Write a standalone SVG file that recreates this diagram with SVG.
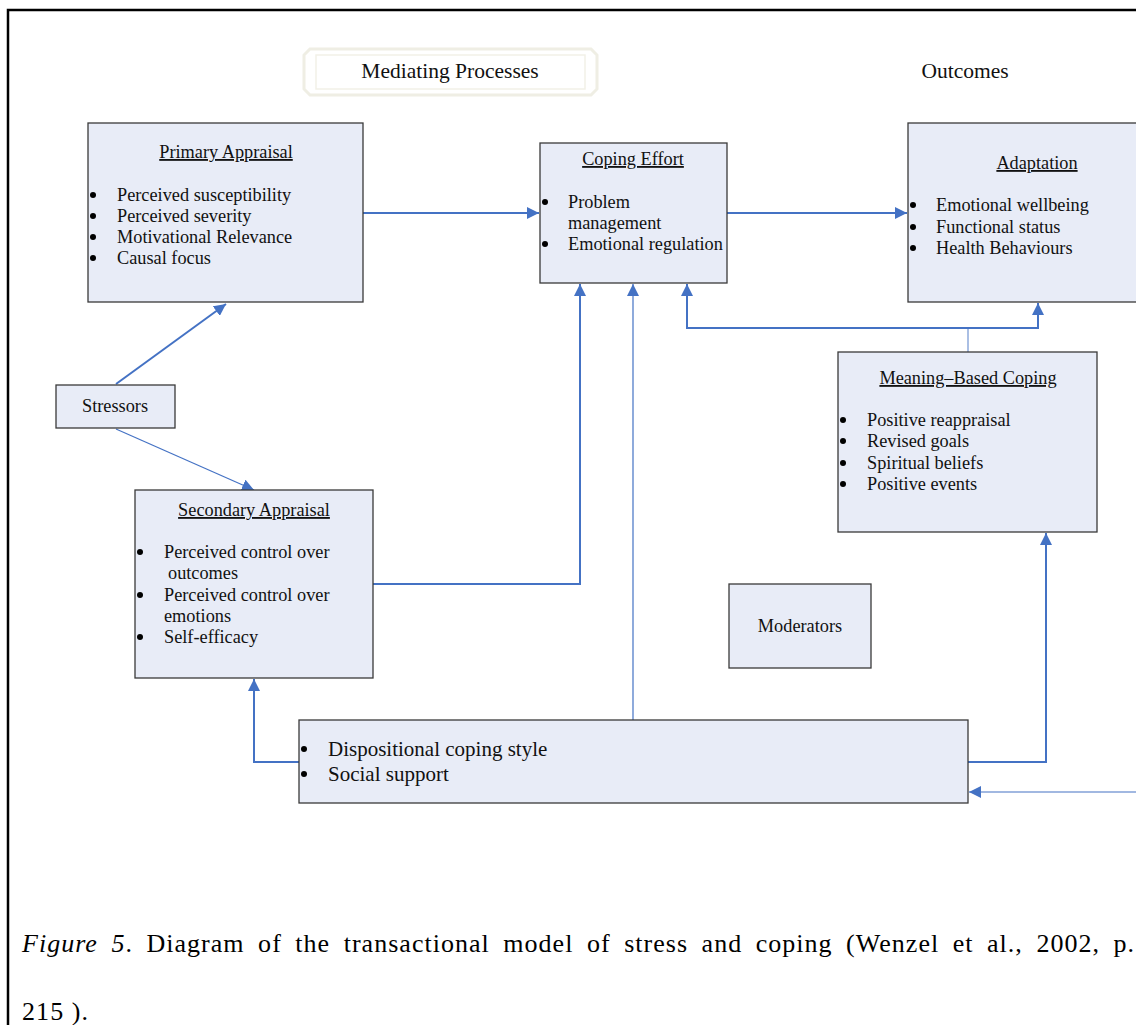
<svg xmlns="http://www.w3.org/2000/svg" width="1136" height="1025" viewBox="0 0 1136 1025">
<defs>
<style>
.box{fill:#e8ecf7;stroke:#3a3a3a;stroke-width:1.3}
.t{font-family:"Liberation Serif","Times New Roman",serif;font-size:18.3px;fill:#111}
.ti{text-decoration:underline}
.h{font-size:21.5px}
.c{fill:none;stroke:#4472c4;stroke-width:2}
.thin{stroke-width:1.2}
.cap{font-family:"Liberation Serif","Times New Roman",serif;font-size:26px;fill:#000}
.dot{fill:#000}
</style>
<marker id="a" viewBox="0 0 10 10" refX="10" refY="5" markerWidth="6" markerHeight="6" orient="auto" markerUnits="strokeWidth">
<path d="M0,0 L10,5 L0,10 z" fill="#4472c4"/>
</marker>
<marker id="b" viewBox="0 0 10 10" refX="10" refY="5" markerWidth="10" markerHeight="10" orient="auto" markerUnits="strokeWidth">
<path d="M0,0 L10,5 L0,10 z" fill="#4472c4"/>
</marker>
</defs>
<rect width="1136" height="1025" fill="#fff"/>
<path d="M8,1025 V10 H1136" fill="none" stroke="#000" stroke-width="2.5"/>

<g id="header-mediating">
<path d="M310,49 H591 L597,55 V89 L591,95 H310 L304,89 V55 Z" fill="#fff" stroke="#efeee4" stroke-width="3"/>
<path d="M316,55 H585 V89 H316 Z" fill="none" stroke="#f2f1e8" stroke-width="1.5"/>
<text class="t h" x="450" y="78" text-anchor="middle">Mediating Processes</text>
</g>
<g id="header-outcomes">
<text class="t h" x="965" y="78" text-anchor="middle">Outcomes</text>
</g>

<g id="connectors">
<line class="c" x1="363" y1="213" x2="539" y2="213" marker-end="url(#a)"/>
<line class="c" x1="727" y1="213" x2="907" y2="213" marker-end="url(#a)"/>
<line class="c" x1="116" y1="384" x2="226" y2="304" marker-end="url(#a)"/>
<line class="c thin" x1="116" y1="429" x2="254" y2="490" marker-end="url(#b)"/>
<polyline class="c" points="373,584 580,584 580,284" marker-end="url(#a)"/>
<line class="c thin" x1="633" y1="720" x2="633" y2="284" marker-end="url(#b)"/>
<line x1="968" y1="352" x2="968" y2="328" stroke="#8eaadb" stroke-width="1.5"/>
<polyline class="c" points="968,328 687,328 687,284" marker-end="url(#a)"/>
<polyline class="c" points="968,328 1038,328 1038,303" marker-end="url(#a)"/>
<polyline class="c" points="299,762 254,762 254,679" marker-end="url(#a)"/>
<polyline class="c" points="968,762 1046,762 1046,533" marker-end="url(#a)"/>
<line class="c thin" x1="1136" y1="792" x2="969" y2="792" marker-end="url(#b)"/>
</g>

<g id="primary-appraisal">
<rect class="box" x="88" y="123" width="275" height="179"/>
<text class="t ti" x="226" y="158" text-anchor="middle">Primary Appraisal</text>
<g class="dot"><circle cx="93" cy="195" r="3"/><circle cx="93" cy="216" r="3"/><circle cx="93" cy="237" r="3"/><circle cx="93" cy="258" r="3"/></g>
<g class="t">
<text x="117" y="201">Perceived susceptibility</text>
<text x="117" y="222">Perceived severity</text>
<text x="117" y="243">Motivational Relevance</text>
<text x="117" y="264">Causal focus</text>
</g>
</g>

<g id="coping-effort">
<rect class="box" x="540" y="143" width="187" height="140"/>
<text class="t ti" x="633" y="165" text-anchor="middle">Coping Effort</text>
<g class="dot"><circle cx="545" cy="202" r="3"/><circle cx="545" cy="244" r="3"/></g>
<g class="t">
<text x="568" y="208">Problem</text>
<text x="568" y="229">management</text>
<text x="568" y="250">Emotional regulation</text>
</g>
</g>

<g id="adaptation">
<rect class="box" x="908" y="123" width="240" height="179"/>
<text class="t ti" x="1037" y="169" text-anchor="middle">Adaptation</text>
<g class="dot"><circle cx="913" cy="205" r="3"/><circle cx="913" cy="227" r="3"/><circle cx="913" cy="248" r="3"/></g>
<g class="t">
<text x="936" y="211">Emotional wellbeing</text>
<text x="936" y="233">Functional status</text>
<text x="936" y="254">Health Behaviours</text>
</g>
</g>

<g id="stressors">
<rect class="box" x="56" y="385" width="119" height="43"/>
<text class="t" x="115" y="412" text-anchor="middle">Stressors</text>
</g>

<g id="secondary-appraisal">
<rect class="box" x="135" y="490" width="238" height="188"/>
<text class="t ti" x="254" y="516" text-anchor="middle">Secondary Appraisal</text>
<g class="dot"><circle cx="140" cy="552" r="3"/><circle cx="140" cy="595" r="3"/><circle cx="140" cy="637" r="3"/></g>
<g class="t">
<text x="164" y="558">Perceived control over</text>
<text x="168" y="579">outcomes</text>
<text x="164" y="601">Perceived control over</text>
<text x="164" y="622">emotions</text>
<text x="164" y="643">Self-efficacy</text>
</g>
</g>

<g id="meaning-based-coping">
<rect class="box" x="838" y="352" width="259" height="180"/>
<text class="t ti" x="968" y="384" text-anchor="middle">Meaning–Based Coping</text>
<g class="dot"><circle cx="843" cy="420" r="3"/><circle cx="843" cy="441" r="3"/><circle cx="843" cy="463" r="3"/><circle cx="843" cy="484" r="3"/></g>
<g class="t">
<text x="867" y="426">Positive reappraisal</text>
<text x="867" y="447">Revised goals</text>
<text x="867" y="469">Spiritual beliefs</text>
<text x="867" y="490">Positive events</text>
</g>
</g>

<g id="moderators">
<rect class="box" x="729" y="584" width="142" height="84"/>
<text class="t" x="800" y="632" text-anchor="middle">Moderators</text>
</g>

<g id="dispositional">
<rect class="box" x="299" y="720" width="669" height="83"/>
<g class="dot"><circle cx="304" cy="749" r="3"/><circle cx="304" cy="774" r="3"/></g>
<g class="t" style="font-size:21px">
<text x="328" y="756">Dispositional coping style</text>
<text x="328" y="781">Social support</text>
</g>
</g>

<g id="caption">
<text class="cap" x="22" y="952" word-spacing="6" textLength="1112" lengthAdjust="spacing"><tspan font-style="italic">Figure 5</tspan>.  Diagram of the transactional model of stress and coping (Wenzel et al., 2002, p.</text>
<text class="cap" x="22" y="1020" textLength="66" lengthAdjust="spacing">215 ).</text>
</g>
</svg>
